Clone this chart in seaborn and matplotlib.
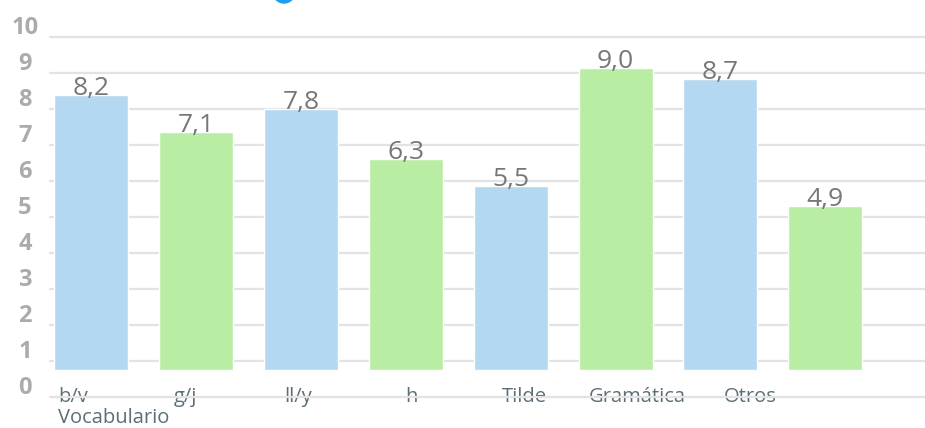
import numpy as np
import pandas as pd
import matplotlib
matplotlib.use("Agg")
import matplotlib.pyplot as plt
from matplotlib.transforms import ScaledTranslation
from matplotlib.patches import Ellipse
import seaborn as sns

# ---- data ----
values = [8.2, 7.1, 7.8, 6.3, 5.5, 9.0, 8.7, 4.9]
groups = ["azul", "verde", "azul", "verde", "azul", "verde", "azul", "verde"]
tick_labels = ["b/v", "g/j", "ll/y", "h", "Tilde", "Gramática", "Otros"]
axis_title = "Vocabulario"
y_ticks = list(range(0, 11))
palette = {"azul": "#b5d8f2", "verde": "#baeda4"}

sns.set_style("white")
plt.rcParams["font.family"] = ["Open Sans", "DejaVu Sans"]

W, H = 925, 428
fig = plt.figure(figsize=(W / 100, H / 100), dpi=100)
rect = [50 / W, 31 / H, 875 / W, 360 / H]

# grid / label axis
ax_g = fig.add_axes(rect)
ax_g.set_ylim(0, 10)
ax_g.set_xlim(-0.204, 7.553)
ax_g.set_yticks(y_ticks)
ax_g.set_yticklabels([str(t) for t in y_ticks])
ax_g.set_xticks(range(len(tick_labels)))
ax_g.set_xticklabels(tick_labels)
ax_g.grid(axis="y", color="#e3e3e3", linewidth=1.6)
ax_g.grid(axis="x", visible=False)
for ln in ax_g.get_ygridlines():
    ln.set_clip_on(False)
for s in ax_g.spines.values():
    s.set_visible(False)
ax_g.tick_params(axis="y", length=0, pad=18, labelsize=17, labelcolor="#ababab")
ax_g.tick_params(axis="x", length=0, pad=-7, labelsize=14.5, labelcolor="#5b6f77")
off = ScaledTranslation(0, 0.12, fig.dpi_scale_trans)
for lab in ax_g.get_yticklabels():
    lab.set_fontweight("bold")
    lab.set_horizontalalignment("center")
    lab.set_transform(lab.get_transform() + off)
ax_g.set_xlabel(axis_title, loc="left", fontsize=14.5, color="#5b6f77")
ax_g.xaxis.set_label_coords(8 / 875, -0.030)
ax_g.xaxis.label.set_verticalalignment("top")
ax_g.set_ylabel("")

# bar axis
ax_b = fig.add_axes(rect, facecolor="none")
df = pd.DataFrame({"pos": list(range(len(values))), "valor": values, "grupo": groups})
sns.barplot(data=df, x="pos", y="valor", hue="grupo", palette=palette, width=0.705,
            dodge=False, legend=False, ax=ax_b, saturation=1)
ax_b.set_xlim(-0.391, 7.95)
ax_b.set_ylim(-0.806, 9.94)
ax_b.axis("off")
for i, v in enumerate(values):
    ax_b.text(i, v, f"{v:.1f}".replace(".", ","), ha="center", va="baseline",
              fontsize=19, color="#777777")

# partially visible marker at the top edge
fig.patches.append(Ellipse((284 / W, 1 + 8 / H), 22 / W, 22 / H,
                           transform=fig.transFigure, color="#1e9ef0", clip_on=False))

fig.savefig("out.png", dpi=100)
